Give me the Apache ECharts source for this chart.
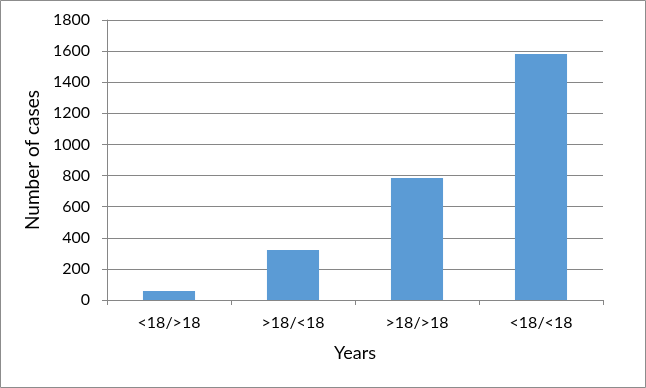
<!DOCTYPE html>
<html><head><meta charset="utf-8">
<script src="https://cdn.jsdelivr.net/npm/echarts@6/dist/echarts.min.js"></script>
<style>html,body{margin:0;padding:0;background:#fff}#c{width:646px;height:388px}</style>
</head><body><div id="c"></div>
<script>
const categories = ['<18/>18', '>18/<18', '>18/>18', '<18/<18'];
const cases = [58, 321, 784, 1581];
const yTicks = [0, 200, 400, 600, 800, 1000, 1200, 1400, 1600, 1800];

const font = 'Lato, "Open Sans", sans-serif';
const chart = echarts.init(document.getElementById('c'), null, {renderer: 'canvas'});
chart.setOption({
  animation: false,
  backgroundColor: '#fff',
  graphic: [{type: 'rect', shape: {x: 0.5, y: 0.5, width: 645, height: 387}, style: {fill: 'none', stroke: '#8c8c8c', lineWidth: 1}, silent: true}],
  grid: {left: 107, right: 43, top: 20, bottom: 88, containLabel: false},
  xAxis: {
    type: 'category', data: categories,
    name: 'Years', nameLocation: 'middle', nameGap: 44,
    nameTextStyle: {fontFamily: font, fontSize: 18, color: '#000'},
    axisLine: {lineStyle: {color: '#868686', width: 1}},
    axisTick: {show: true, length: 5, lineStyle: {color: '#868686'}},
    axisLabel: {fontFamily: font, fontSize: 16, color: '#000', margin: 15}
  },
  yAxis: {
    type: 'value', min: yTicks[0], max: yTicks[yTicks.length - 1], interval: 200,
    name: 'Number of cases', nameLocation: 'middle', nameGap: 62, nameRotate: 90,
    nameTextStyle: {fontFamily: font, fontSize: 19, color: '#000'},
    axisLine: {show: true, lineStyle: {color: '#868686', width: 1}},
    axisTick: {show: true, length: 5, lineStyle: {color: '#868686'}},
    splitLine: {lineStyle: {color: '#868686', width: 1}},
    axisLabel: {fontFamily: font, fontSize: 16, color: '#000', margin: 17, formatter: v => String(v)}
  },
  series: [{
    type: 'bar', data: cases, barWidth: '42%',
    itemStyle: {color: '#5b9bd5'}
  }]
});
</script></body></html>
